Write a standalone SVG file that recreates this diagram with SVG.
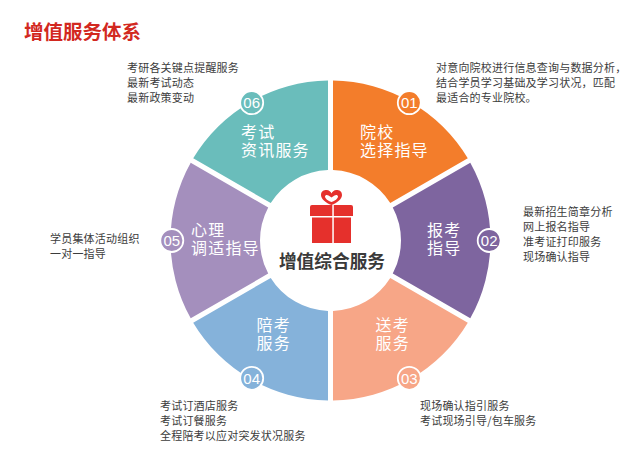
<svg xmlns="http://www.w3.org/2000/svg" width="638" height="457" viewBox="0 0 638 457">
<style>
text{font-family:"Noto Sans CJK SC","Liberation Sans",sans-serif}
.t{font-size:11px;fill:#3c3c3c;letter-spacing:.2px}
.l{font-size:16px;fill:#fff;letter-spacing:1.2px}
.n{font-size:15px;fill:#fff;text-anchor:middle;font-family:"Liberation Sans",sans-serif}
.b{stroke:#fff;stroke-width:1.8}
</style>
<defs><path id="s" d="M2.5-159.98A160 160 0 0 1 137.3-82.16L59.77-37.4A70.5 70.5 0 0 0 2.5-70.46Z"/></defs>
<rect width="638" height="457" fill="#fff"/>
<text id="title" x="24" y="39" font-size="19.5" font-weight="700" fill="#d2281f">增值服务体系</text>
<g id="node1"><use href="#s" transform="translate(330.5 240.5)" fill="#f37d2b"/><circle class="b" cx="409.3" cy="102.7" r="11.5" fill="#f37d2b"/><text class="n" x="409.3" y="108">01</text><text class="l"><tspan x="360" y="138">院校</tspan><tspan x="360" y="156">选择指导</tspan></text>
<text class="t"><tspan x="436" y="71.5">对意向院校进行信息查询与数据分析&#65292;</tspan><tspan x="436" y="86.5">结合学员学习基础及学习状况&#65292;匹配</tspan><tspan x="436" y="101.5">最适合的专业院校。</tspan></text></g>
<g id="node2"><use href="#s" transform="translate(330.5 240.5) rotate(60)" fill="#7e659f"/><circle class="b" cx="489.2" cy="240.5" r="11.5" fill="#7e659f"/><text class="n" x="489.2" y="246">02</text><text class="l"><tspan x="427" y="236">报考</tspan><tspan x="427" y="254">指导</tspan></text>
<text class="t"><tspan x="523" y="215.5">最新招生简章分析</tspan><tspan x="523" y="230.5">网上报名指导</tspan><tspan x="523" y="245.5">准考证打印服务</tspan><tspan x="523" y="260.5">现场确认指导</tspan></text></g>
<g id="node3"><use href="#s" transform="translate(330.5 240.5) rotate(120)" fill="#f7a687"/><circle class="b" cx="409.3" cy="378.3" r="11.5" fill="#f7a687"/><text class="n" x="409.3" y="383.6">03</text><text class="l"><tspan x="375.5" y="331">送考</tspan><tspan x="375.5" y="349">服务</tspan></text>
<text class="t"><tspan x="420" y="409.5">现场确认指引服务</tspan><tspan x="420" y="424.5">考试现场引导/包车服务</tspan></text></g>
<g id="node4"><use href="#s" transform="translate(330.5 240.5) rotate(180)" fill="#85b2da"/><circle class="b" cx="251.7" cy="378.3" r="11.5" fill="#85b2da"/><text class="n" x="251.7" y="383.6">04</text><text class="l"><tspan x="256.5" y="331">陪考</tspan><tspan x="256.5" y="349">服务</tspan></text>
<text class="t"><tspan x="160" y="409.5">考试订酒店服务</tspan><tspan x="160" y="424.5">考试订餐服务</tspan><tspan x="160" y="439.5">全程陪考以应对突发状况服务</tspan></text></g>
<g id="node5"><use href="#s" transform="translate(330.5 240.5) rotate(240)" fill="#a48fbd"/><circle class="b" cx="171.8" cy="240.5" r="11.5" fill="#a48fbd"/><text class="n" x="171.8" y="246">05</text><text class="l"><tspan x="191" y="236">心理</tspan><tspan x="191" y="254">调适指导</tspan></text>
<text class="t"><tspan x="50" y="242.5">学员集体活动组织</tspan><tspan x="50" y="257.5">一对一指导</tspan></text></g>
<g id="node6"><use href="#s" transform="translate(330.5 240.5) rotate(300)" fill="#6abdbb"/><circle class="b" cx="251.7" cy="102.7" r="11.5" fill="#6abdbb"/><text class="n" x="251.7" y="108">06</text><text class="l"><tspan x="241" y="138">考试</tspan><tspan x="241" y="156">资讯服务</tspan></text>
<text class="t"><tspan x="127" y="71.5">考研各关键点提醒服务</tspan><tspan x="127" y="86.5">最新考试动态</tspan><tspan x="127" y="101.5">最新政策变动</tspan></text></g>
<g id="center">
<path d="M331.5 205C326 203 321 199 321 195C321 191 324 190 326.5 190C329 190 331 192 331.5 193.5C332 192 334 190 336.5 190C339 190 342 191 342 195C342 199 337 203 331.5 205Z" fill="#e5302c"/>
<path d="M331.5 202C328 201 325 198.5 325 196.5C325 195 327 194.5 328.5 195.5L331.5 197.5L334.5 195.5C336 194.5 338 195 338 196.5C338 198.5 335 201 331.5 202Z" fill="#fff"/>
<path d="M310 207a2 2 0 0 1 2-2H332.3V216H310ZM333.8 205H351a2 2 0 0 1 2 2V216H333.8ZM312 217.5H332.3V243H312ZM333.8 217.5H351V243H333.8Z" fill="#e5302c"/>
<text x="332" y="267.5" font-size="17.7" font-weight="700" fill="#3a3a3a" text-anchor="middle">增值综合服务</text></g>
</svg>
